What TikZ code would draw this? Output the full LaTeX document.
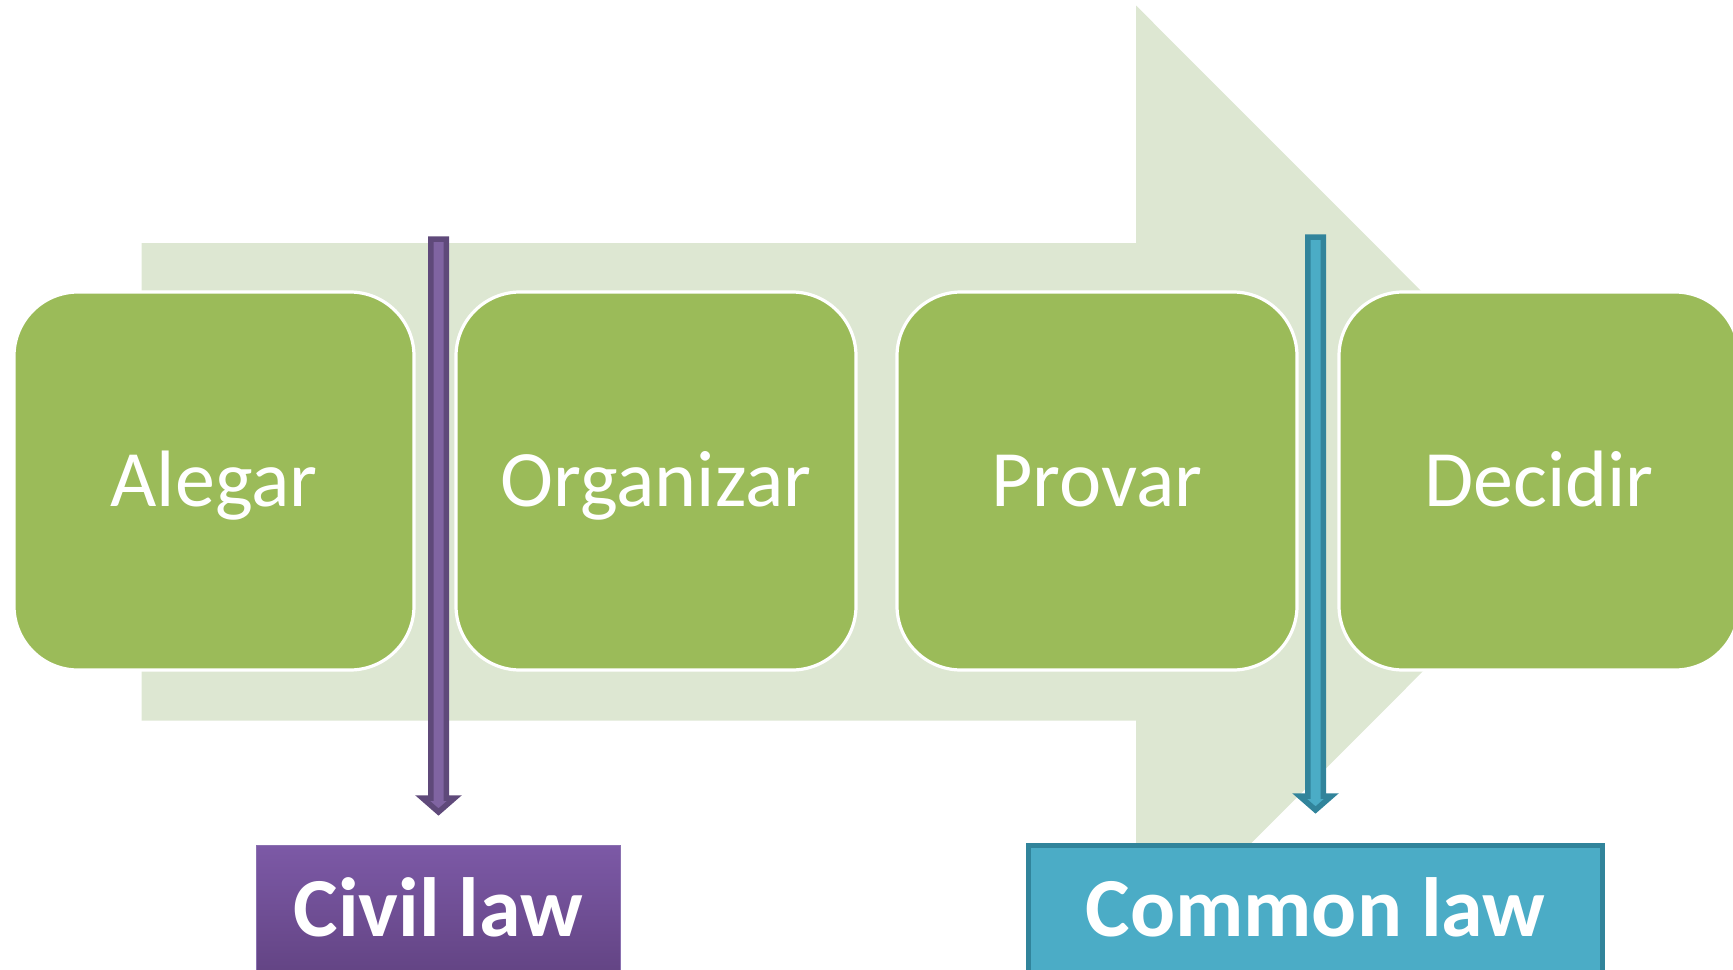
\documentclass[tikz,border=0pt]{standalone}
\usepackage{fontspec}
\setmainfont{Carlito}
\usetikzlibrary{calc}
\definecolor{bigarrowc}{HTML}{DDE7D2}
\definecolor{boxgreen}{HTML}{9BBB59}
\definecolor{civfill}{HTML}{8064A2}
\definecolor{civline}{HTML}{5F497A}
\definecolor{civtopc}{HTML}{7C59A6}
\definecolor{civbotc}{HTML}{634484}
\definecolor{civedge}{HTML}{8A70B0}
\definecolor{comfill}{HTML}{4BACC6}
\definecolor{comline}{HTML}{31849B}
\tikzset{
  procbox/.style={rounded corners=32pt, fill=boxgreen, draw=white, line width=1.6pt,
    minimum width=200pt, minimum height=189pt, inner sep=0pt, text=white,
    font=\fontsize{40}{48}\selectfont, text height=25.3pt, text depth=0pt},
  lawlabel/.style={inner sep=0pt, text=white, font=\bfseries\fontsize{42}{50}\selectfont,
    text height=26.5pt, text depth=0pt},
  civbox/.style={lawlabel, top color=civtopc, bottom color=civbotc, draw=civedge, line width=0.8pt,
    minimum width=182pt, minimum height=64pt},
  combox/.style={lawlabel, fill=comfill, draw=comline, line width=2.5pt,
    minimum width=287pt, minimum height=64pt},
  civarrow/.style={fill=civfill, draw=civline, line width=2.75pt, line join=miter},
  comarrow/.style={fill=comfill, draw=comline, line width=2.75pt, line join=miter},
  bigshape/.style={fill=bigarrowc, draw=none}
}
\begin{document}
\begin{tikzpicture}[x=0.5pt,y=-0.5pt]
\clip (0,0) rectangle (1733,969);
\useasboundingbox (0,0) rectangle (1733,969);
% big background arrow
\draw[bigshape] (141.5,243) -- (1136,243) -- (1136,5.5) -- (1612,482) -- (1136,958.5) -- (1136,720.6) -- (141.5,720.6) -- cycle;
% process boxes
\node[procbox] (a1) at (214,481) {Alegar};
\node[procbox] (a2) at (656,481) {Organizar};
\node[procbox] (a3) at (1097,481) {Provar};
\node[procbox] (a4) at (1539,481) {Decidir};
% law boxes
\node[civbox] (civil) at (438.4,909.5) {Civil law};
\node[combox] (common) at (1315.5,909.5) {Common law};
% vertical block arrows
\coordinate (civtop) at (438.5,239);
\coordinate (civtip) at (438.5,812);
\coordinate (comtop) at (1315.5,237);
\coordinate (comtip) at (1315.5,810);
\draw[civarrow] ($(civtop)+(-7.75,0)$) -- ($(civtop)+(7.75,0)$) -- ($(civtip)+(7.75,-14)$) -- ($(civtip)+(16,-14)$) -- (civtip) -- ($(civtip)+(-16,-14)$) -- ($(civtip)+(-7.75,-14)$) -- cycle;
\draw[comarrow] ($(comtop)+(-7.75,0)$) -- ($(comtop)+(7.75,0)$) -- ($(comtip)+(7.75,-14)$) -- ($(comtip)+(16,-14)$) -- (comtip) -- ($(comtip)+(-16,-14)$) -- ($(comtip)+(-7.75,-14)$) -- cycle;
\end{tikzpicture}
\end{document}
